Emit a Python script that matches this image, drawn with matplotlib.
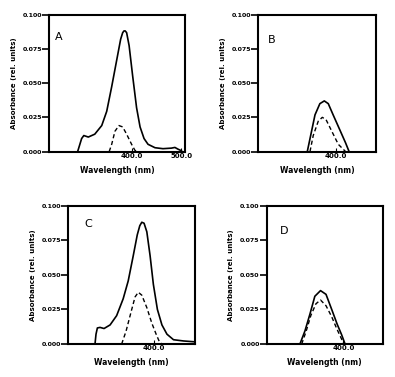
import matplotlib
matplotlib.use("Agg")
import matplotlib.pyplot as plt

# Panel A
a_solid_x = [291.6, 299.6, 304, 313, 326, 340, 350, 360, 370, 378, 382, 384.5, 387, 390, 395, 402,
             410, 417, 425, 433, 447, 463, 480, 487, 493.5, 500]
a_solid_y = [0.0, 0.0095, 0.0117, 0.0106, 0.0127, 0.019, 0.0294, 0.0474, 0.0667, 0.0821,
             0.0868, 0.0881, 0.0882, 0.0869, 0.0774, 0.0556, 0.032, 0.018, 0.0095, 0.0053,
             0.0028, 0.0021, 0.0025, 0.003, 0.0017, 0.0006]
a_dash_x = [355, 360, 366.5, 374.5, 382, 390, 400, 406.5, 410]
a_dash_y = [0.0, 0.0053, 0.0148, 0.019, 0.018, 0.0127, 0.0053, 0.001, 0.0]

# Panel B
b_solid_x = [335.6, 343.2, 353, 364, 374, 383, 394, 409, 422, 430]
b_solid_y = [0.0, 0.0117, 0.0268, 0.035, 0.037, 0.035, 0.0268, 0.0159, 0.0064, 0.0]
b_dash_x = [341.7, 349, 360.4, 369.5, 378, 391, 405.6, 422]
b_dash_y = [0.0, 0.0117, 0.0222, 0.025, 0.0233, 0.0148, 0.0053, 0.0]

# Panel C
c_solid_x = [283, 285, 287.7, 293, 301, 313, 326, 339, 349, 359, 367, 372, 376, 380.5, 386,
             392.5, 399, 407, 416, 426, 439, 459, 480.6]
c_solid_y = [0.0, 0.0071, 0.0116, 0.012, 0.0112, 0.0138, 0.0205, 0.0327, 0.0456, 0.0638,
             0.0789, 0.0855, 0.088, 0.0873, 0.0811, 0.0638, 0.0431, 0.025, 0.0138, 0.0071,
             0.0031, 0.0022, 0.0016]
c_dash_x = [336, 344.8, 356, 362.6, 369, 376, 386, 396, 404.5, 411, 416]
c_dash_y = [0.0, 0.0094, 0.025, 0.034, 0.0374, 0.0353, 0.0263, 0.015, 0.0071, 0.0016, 0.0]

# Panel D
d_solid_x = [301, 312.5, 324, 335, 348, 360.5, 373.5, 386, 396, 404]
d_solid_y = [0.0, 0.0095, 0.0218, 0.0345, 0.0386, 0.0359, 0.025, 0.0143, 0.0068, 0.0]
d_dash_x = [305, 315, 326, 337.6, 348, 360.5, 373.5, 385, 396, 401.6]
d_dash_y = [0.0, 0.009, 0.0207, 0.0291, 0.0318, 0.0277, 0.0197, 0.0111, 0.0036, 0.0]

y_ticks = [0.0, 0.025, 0.05, 0.075, 0.1]
y_labels = ["0.000", "0.025", "0.050", "0.075", "0.100"]

panels = [
    ("A", [0.124, 0.598, 0.344, 0.363], (234, 507), [400, 500], (0.044, 0.87),
     a_solid_x, a_solid_y, a_dash_x, a_dash_y),
    ("B", [0.654, 0.598, 0.297, 0.363], (225, 490), [400], (0.083, 0.855),
     b_solid_x, b_solid_y, b_dash_x, b_dash_y),
    ("C", [0.173, 0.0875, 0.321, 0.367], (230, 482), [400], (0.13, 0.9),
     c_solid_x, c_solid_y, c_dash_x, c_dash_y),
    ("D", [0.675, 0.0875, 0.294, 0.367], (225, 490), [400], (0.115, 0.855),
     d_solid_x, d_solid_y, d_dash_x, d_dash_y),
]

fig = plt.figure(figsize=(3.95, 3.77), dpi=100)

for name, rect, xlim, xticks, lpos, sx, sy, dx, dy in panels:
    ax = fig.add_axes(rect)
    ax.plot(sx, sy, color="black", lw=1.2)
    ax.plot(dx, dy, color="black", lw=1.0, ls=(0, (3, 2)))
    ax.set_xlim(*xlim)
    ax.set_ylim(0, 0.1)
    ax.set_yticks(y_ticks)
    ax.set_yticklabels(y_labels, fontsize=4.5, fontweight="bold")
    ax.set_xticks(xticks)
    ax.set_xticklabels([f"{t:.1f}" for t in xticks], fontsize=5, fontweight="bold")
    ax.tick_params(axis="y", direction="out", length=5, width=1.2, pad=0)
    ax.tick_params(axis="x", direction="in", length=3, width=0.8, pad=1)
    for s in ax.spines.values():
        s.set_linewidth(1.5)
    ax.set_xlabel("Wavelength (nm)", fontsize=5.5, fontweight="bold", labelpad=5)
    ax.set_ylabel("Absorbance (rel. units)", fontsize=5, fontweight="bold", labelpad=4)
    ax.text(lpos[0], lpos[1], name, transform=ax.transAxes, fontsize=8,
            ha="left", va="top")

fig.savefig("out.png", dpi=100)
